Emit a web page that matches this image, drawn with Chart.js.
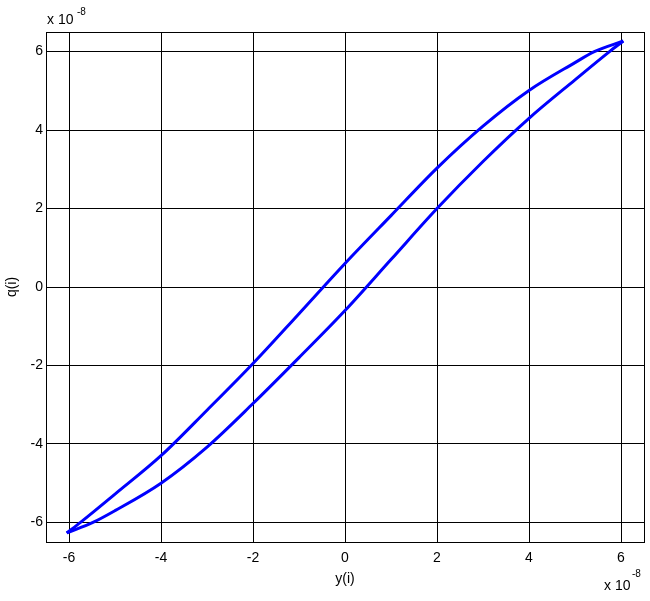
<!DOCTYPE html>
<html>
<head>
<meta charset="utf-8">
<script src="https://cdn.jsdelivr.net/npm/chart.js@4"></script>
<style>
html, body { margin: 0; padding: 0; background: #fff; }
</style>
</head>
<body>
<canvas id="loopChart" width="650" height="601"></canvas>
<script>
// Hysteresis loop q(i) vs y(i), values in units of 1e-8

// lower branch of the loop, left to right
const lowerX = [-6.05, -5.48, -5, -4, -3, -2, -1, 0, 1, 2, 3, 4, 5, 5.75, 6.05];
const lowerY = [-6.27, -6.0, -5.7, -5.0, -4.08, -2.97, -1.8, -0.6, 0.7, 2.0, 3.2, 4.3, 5.28, 6.0, 6.27];

// upper branch of the loop, left to right
const upperX = [-6.05, -5.75, -5, -4, -3, -2, -1, 0, 1, 2, 3, 4, 5, 5.42, 6.05];
const upperY = [-6.27, -6.0, -5.28, -4.3, -3.14, -1.95, -0.68, 0.6, 1.82, 3.03, 4.1, 5.01, 5.72, 6.0, 6.27];

const xTicks = [-6, -4, -2, 0, 2, 4, 6];
const yTicks = [-6, -4, -2, 0, 2, 4, 6];
const axisMin = -6.5;
const axisMax = 6.5;

const fontFamily = '"Liberation Sans", Arial, sans-serif';

function toPoints(xs, ys) {
    return xs.map((x, i) => ({ x: x, y: ys[i] }));
}

// box round the plot area and the "x 10^-8" exponent labels
const framePlugin = {
    id: 'frame',
    afterDraw(chart) {
        const ctx = chart.ctx;
        const a = chart.chartArea;
        ctx.save();
        ctx.strokeStyle = '#000';
        ctx.lineWidth = 1;
        ctx.strokeRect(Math.round(a.left) + 0.5, Math.round(a.top) + 0.5,
            Math.round(a.right - a.left), Math.round(a.bottom - a.top));

        ctx.fillStyle = '#000';
        ctx.textBaseline = 'alphabetic';
        ctx.textAlign = 'left';
        ctx.font = '14px ' + fontFamily;
        ctx.fillText('x 10', a.left + 1, 24);
        ctx.fillText('x 10', 604, 590);
        ctx.font = '10px ' + fontFamily;
        ctx.fillText('-8', a.left + 31, 15);
        ctx.fillText('-8', 632, 577);
        ctx.restore();
    }
};

function setTicks(list) {
    return function(axis) {
        axis.ticks = list.map(v => ({ value: v }));
    };
}

function branch(points) {
    return {
        data: points,
        showLine: true,
        borderColor: '#0000ff',
        borderWidth: 3,
        pointRadius: 0,
        cubicInterpolationMode: 'monotone',
        fill: false
    };
}

const ctx = document.getElementById('loopChart').getContext('2d');
const loopChart = new Chart(ctx, {
    type: 'scatter',
    data: {
        datasets: [
            branch(toPoints(lowerX, lowerY)),
            branch(toPoints(upperX, upperY))
        ]
    },
    options: {
        responsive: false,
        animation: false,
        layout: {
            padding: { left: 0, right: 6, top: 32, bottom: 0 }
        },
        plugins: {
            legend: { display: false },
            tooltip: { enabled: false }
        },
        scales: {
            x: {
                type: 'linear',
                min: axisMin,
                max: axisMax,
                afterBuildTicks: setTicks(xTicks),
                afterFit(axis) { axis.height = 59; },
                grid: { color: '#000', lineWidth: 1, drawTicks: false },
                border: { display: true, color: '#000' },
                ticks: {
                    color: '#000',
                    padding: 8,
                    maxRotation: 0,
                    font: { family: fontFamily, size: 14 }
                },
                title: {
                    display: true,
                    text: 'y(i)',
                    color: '#000',
                    font: { family: fontFamily, size: 14 },
                    padding: { top: 0, bottom: 13 }
                }
            },
            y: {
                type: 'linear',
                min: axisMin,
                max: axisMax,
                afterBuildTicks: setTicks(yTicks),
                afterFit(axis) { axis.width = 46; },
                grid: { color: '#000', lineWidth: 1, drawTicks: false },
                border: { display: true, color: '#000' },
                ticks: {
                    color: '#000',
                    padding: 3,
                    font: { family: fontFamily, size: 14 }
                },
                title: {
                    display: true,
                    text: 'q(i)',
                    color: '#000',
                    font: { family: fontFamily, size: 14 },
                    padding: { top: 4, bottom: 0 }
                }
            }
        }
    },
    plugins: [framePlugin]
});
</script>
</body>
</html>
